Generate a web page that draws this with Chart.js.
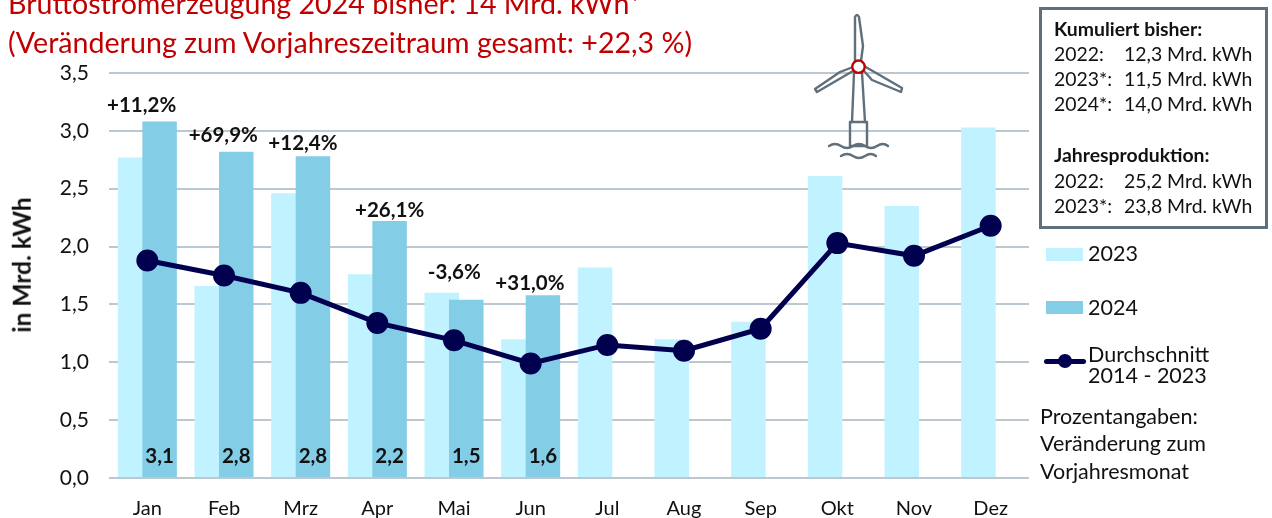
<!DOCTYPE html>
<html lang="de">
<head>
<meta charset="utf-8">
<title>Bruttostromerzeugung 2024</title>
<script src="https://cdn.jsdelivr.net/npm/chart.js@4"></script>
<style>
  html, body { margin: 0; padding: 0; background: #fff; overflow: hidden; }
  #wrap { position: relative; width: 1272px; height: 518px; overflow: hidden; font-family: Lato, "Open Sans", sans-serif; color: #111; }
  canvas { position: absolute; left: 0; top: 0; }
  .t { position: absolute; white-space: pre; line-height: 1; font-size: 21.5px; transform: translateY(-50%); }
  .title { color: #c00000; font-size: 28.6px; }
  .b { font-weight: 700; }
  #yTitle { position: absolute; left: 22px; top: 265px; font-size: 24.5px; font-weight: 700; line-height: 1; white-space: pre; transform: translate(-50%, -50%) rotate(-90deg); }
  #box { position: absolute; left: 1039px; top: 7px; width: 223px; height: 216px; border: 3px solid #5f6f7c; }
  .swatch { position: absolute; left: 1046px; width: 37px; height: 13px; }
</style>
</head>
<body>
<div id="wrap">
  <canvas id="chart" width="1272" height="518"></canvas>

  <div class="t title" style="left:8px;top:3px">Bruttostromerzeugung 2024 bisher: 14 Mrd. kWh*</div>
  <div class="t title" style="left:8px;top:42px">(Veränderung zum Vorjahreszeitraum gesamt: +22,3 %)</div>
  <div id="yTitle">in Mrd. kWh</div>

  <svg style="position:absolute;left:800px;top:0" width="110" height="170" viewBox="800 0 110 170" fill="none" stroke="#5f6f7c" stroke-width="2.4" stroke-linejoin="round" stroke-linecap="round">
    <path d="M855 61 L855 17 Q857 13 859 17 L863 46 L861 61"/>
    <path d="M853 67 L840 72 L815 89 L817 92 L853 71"/>
    <path d="M864 71 L872 80 L901 92 L902 88 L864 66"/>
    <path d="M854 73 L852 122 M862 73 L865 122"/>
    <path d="M850 122 H867 V146 H850 Z"/>
    <path d="M829 146 Q835 142 841 146 T853 146 T865 146 T877 146 T888 146"/>
    <path d="M841 156 Q847 152 853 156 T865 156 T876 156"/>
    <circle cx="858.5" cy="66.7" r="6.2" fill="#fff" stroke="#c00000" stroke-width="2.4"/>
  </svg>

  <div id="box"></div>
  <div id="boxText"></div>

  <div class="swatch" style="top:248px;background:#c0f2ff"></div>
  <div class="t" style="left:1088px;top:254px">2023</div>
  <div class="swatch" style="top:301px;background:#84cde6"></div>
  <div class="t" style="left:1088px;top:308px">2024</div>
  <div style="position:absolute;left:1044px;top:359px;width:42px;height:5px;border-radius:3px;background:#00004f"></div>
  <div style="position:absolute;left:1058px;top:354px;width:14px;height:14px;border-radius:50%;background:#00004f"></div>
  <div class="t" style="left:1088px;top:355px">Durchschnitt</div>
  <div class="t" style="left:1088px;top:376px">2014 - 2023</div>
  <div class="t" style="left:1040px;top:417px">Prozentangaben:</div>
  <div class="t" style="left:1040px;top:444px">Veränderung zum</div>
  <div class="t" style="left:1040px;top:472px">Vorjahresmonat</div>
</div>

<script>
const months = ["Jan", "Feb", "Mrz", "Apr", "Mai", "Jun", "Jul", "Aug", "Sep", "Okt", "Nov", "Dez"];
const values2023 = [2.77, 1.66, 2.46, 1.76, 1.60, 1.20, 1.82, 1.20, 1.35, 2.61, 2.35, 3.03];
const values2024 = [3.08, 2.82, 2.78, 2.22, 1.54, 1.58];
const average = [1.88, 1.75, 1.60, 1.34, 1.19, 0.99, 1.15, 1.10, 1.29, 2.03, 1.92, 2.18];
const yTicks = ["0,0", "0,5", "1,0", "1,5", "2,0", "2,5", "3,0", "3,5"];
const barLabels = ["3,1", "2,8", "2,8", "2,2", "1,5", "1,6"];
const changeLabels = ["+11,2%", "+69,9%", "+12,4%", "+26,1%", "-3,6%", "+31,0%"];

const boxLines = [
  ["Kumuliert bisher:", "", 29, true],
  ["2022:", "12,3 Mrd. kWh", 54],
  ["2023*:", "11,5 Mrd. kWh", 79],
  ["2024*:", "14,0 Mrd. kWh", 104],
  ["Jahresproduktion:", "", 155, true],
  ["2022:", "25,2 Mrd. kWh", 181],
  ["2023*:", "23,8 Mrd. kWh", 206]
];
const boxText = document.getElementById("boxText");
boxLines.forEach(function (l) {
  boxText.innerHTML += `<div class="t ${l[3] ? "b" : ""}" style="left:1054px;top:${l[2]}px;font-size:19.4px">${l[0]}</div>`;
  if (l[1]) boxText.innerHTML += `<div class="t" style="left:1124px;top:${l[2]}px;font-size:19.4px">${l[1]}</div>`;
});

// label placement relative to the bar top, the percent labels sit a bit off centre in the original
const changeOffsets = [[-18, -16], [-13, -16], [-10, -13], [0, -11], [-12, -27], [-13, -12]];

const barLabelPlugin = {
  id: "barLabels",
  afterDatasetsDraw: function (chart) {
    const ctx = chart.ctx;
    const y = chart.scales.y;
    const bars = chart.getDatasetMeta(1).data;
    ctx.save();
    ctx.fillStyle = "#111";
    ctx.textAlign = "center";
    ctx.textBaseline = "middle";
    ctx.font = "700 20.5px Lato";
    bars.forEach(function (bar, i) {
      ctx.fillText(barLabels[i], bar.x, y.getPixelForValue(0) - 22);
      ctx.fillText(changeLabels[i], bar.x + changeOffsets[i][0], y.getPixelForValue(values2024[i]) + changeOffsets[i][1]);
    });
    ctx.restore();
  }
};

new Chart(document.getElementById("chart").getContext("2d"), {
  data: {
    labels: months,
    datasets: [
      {
        type: "line",
        label: "Durchschnitt 2014 - 2023",
        data: average,
        xAxisID: "x",
        order: 1,
        borderColor: "#00004f",
        backgroundColor: "#00004f",
        borderWidth: 5,
        pointRadius: 8.5,
        pointBackgroundColor: "#00004f",
        tension: 0
      },
      {
        type: "bar",
        label: "2024",
        data: values2024.map((v, i) => ({ x: i, y: v })),
        xAxisID: "x2024",
        order: 2,
        grouped: false,
        categoryPercentage: 0.45,
        barPercentage: 1,
        backgroundColor: "#84cde6"
      },
      {
        type: "bar",
        label: "2023",
        data: values2023.map((v, i) => ({ x: i, y: v })),
        xAxisID: "x2023",
        order: 3,
        grouped: false,
        categoryPercentage: 0.45,
        barPercentage: 1,
        backgroundColor: "#c0f2ff"
      }
    ]
  },
  options: {
    responsive: false,
    animation: false,
    layout: { padding: { top: 73, right: 243, bottom: 0, left: 0 } },
    plugins: {
      legend: { display: false },
      tooltip: { enabled: false }
    },
    scales: {
      // the two bar series overlap, each one gets a hidden x axis shifted by a bit of a category
      x2023: { type: "linear", display: false, offset: false, min: -0.34, max: 11.66 },
      x2024: { type: "linear", display: false, offset: false, min: -0.66, max: 11.34 },
      x: {
        type: "category",
        offset: true,
        grid: { display: false },
        border: { display: false },
        ticks: { color: "#111", font: { family: "Lato", size: 20 }, padding: 11, maxRotation: 0 },
        afterFit: function (scale) { scale.height = 40; }
      },
      y: {
        min: 0,
        max: 3.5,
        grid: { color: "#bcc7cf", lineWidth: 2, drawTicks: false },
        border: { display: false },
        ticks: {
          stepSize: 0.5,
          color: "#111",
          font: { family: "Lato", size: 21 },
          padding: 20,
          callback: function (v) { return yTicks[Math.round(v * 2)]; }
        },
        afterFit: function (scale) { scale.width = 109; }
      }
    }
  },
  plugins: [barLabelPlugin]
});
</script>
</body>
</html>
